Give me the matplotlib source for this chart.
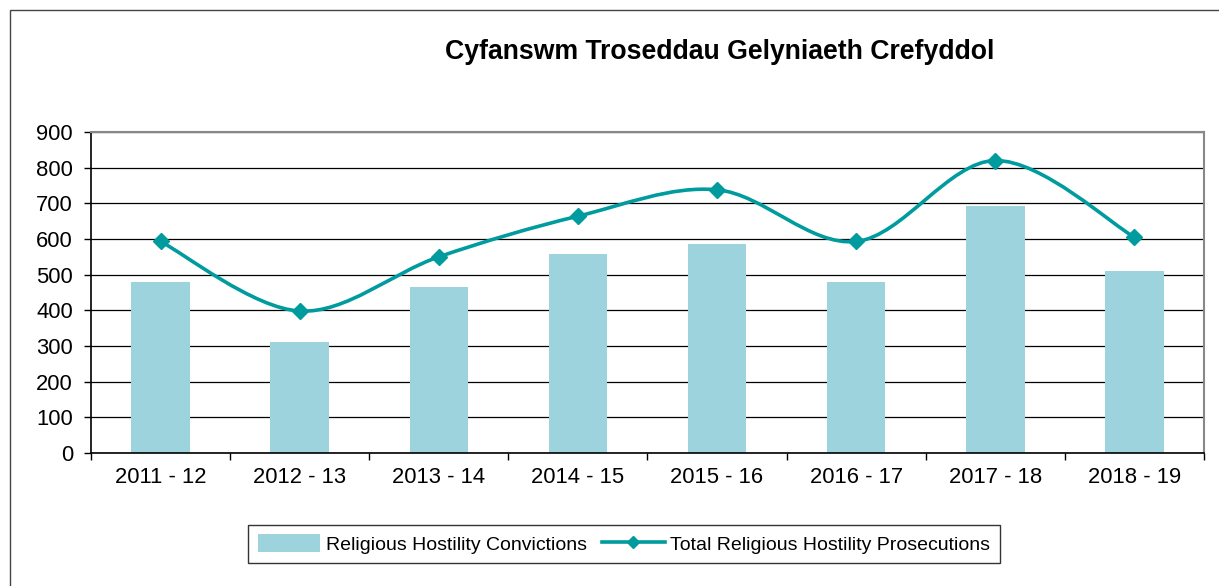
import numpy as np
import matplotlib
matplotlib.use('Agg')
import matplotlib.pyplot as plt
from matplotlib.path import Path
from matplotlib.patches import PathPatch, Rectangle
from matplotlib.lines import Line2D
from matplotlib.patches import Patch

plt.rcParams['font.family'] = ['Liberation Sans', 'DejaVu Sans']

years = ['2011 - 12', '2012 - 13', '2013 - 14', '2014 - 15',
         '2015 - 16', '2016 - 17', '2017 - 18', '2018 - 19']
convictions = [480, 310, 466, 559, 585, 479, 693, 509]
prosecutions = [593, 398, 550, 664, 738, 593, 820, 605]

bar_col = '#9CD3DC'
line_col = '#009B9E'

fig = plt.figure(figsize=(12.19, 5.86), dpi=100)
ax = fig.add_axes([91/1219, 133/586, 1113/1219, 321/586])

x = np.arange(len(years))
ax.bar(x, convictions, width=0.42, color=bar_col, zorder=2)

# smoothed line (catmull-rom as cubic bezier, like excel's smoothing)
pts = np.column_stack([x, prosecutions]).astype(float)
verts = [pts[0]]
codes = [Path.MOVETO]
for i in range(len(pts) - 1):
    p0 = pts[i - 1] if i > 0 else pts[i]
    p1 = pts[i]
    p2 = pts[i + 1]
    p3 = pts[i + 2] if i + 2 < len(pts) else pts[i + 1]
    verts += [p1 + (p2 - p0) / 6, p2 - (p3 - p1) / 6, p2]
    codes += [Path.CURVE4] * 3
ax.add_patch(PathPatch(Path(verts, codes), fill=False, edgecolor=line_col,
                       lw=2.6, zorder=3))
ax.plot(x, prosecutions, ls='none', marker='D', ms=8, color=line_col, zorder=4)

ax.set_xlim(-0.5, len(years) - 0.5)
ax.set_ylim(0, 900)
ax.set_yticks(range(0, 901, 100))
ax.set_xticks(x)
ax.set_xticklabels(years)
ax.set_xticks(np.arange(-0.5, len(years)), minor=True)
ax.tick_params(axis='x', which='major', length=0, pad=10, labelsize=15.8)
ax.tick_params(axis='x', which='minor', length=5, direction='out', width=1)
ax.tick_params(axis='y', length=5, direction='out', width=1, pad=8, labelsize=15.8)
ax.yaxis.grid(True, color='black', lw=0.9, zorder=1)
ax.set_axisbelow(True)
for s in ['top', 'right']:
    ax.spines[s].set_color('#888888')
    ax.spines[s].set_linewidth(1.5)
for s in ['left', 'bottom']:
    ax.spines[s].set_color('black')
    ax.spines[s].set_linewidth(1.2)

fig.text(720/1219, 1 - 52/586, 'Cyfanswm Troseddau Gelyniaeth Crefyddol',
         ha='center', va='center', fontsize=19.2, fontweight='bold')

handles = [Patch(facecolor=bar_col, edgecolor='none'),
           Line2D([], [], color=line_col, lw=2.6, marker='D', ms=6)]
leg = fig.legend(handles, ['Religious Hostility Convictions',
                           'Total Religious Hostility Prosecutions'],
                 loc='center', bbox_to_anchor=(624/1219, 1 - 544/586), ncol=2,
                 fontsize=14, frameon=True, fancybox=False, handlelength=3.2,
                 handleheight=1.0, handletextpad=0.3, columnspacing=0.8,
                 borderpad=0.5)
leg.get_frame().set_edgecolor('black')
leg.get_frame().set_linewidth(1)

fig.patches.append(Rectangle((10/1219, -0.01), 1.02, 1 - 10/586 + 0.01,
                             transform=fig.transFigure, fill=False,
                             edgecolor='#444444', lw=1))

fig.savefig('out.png', dpi=100)
